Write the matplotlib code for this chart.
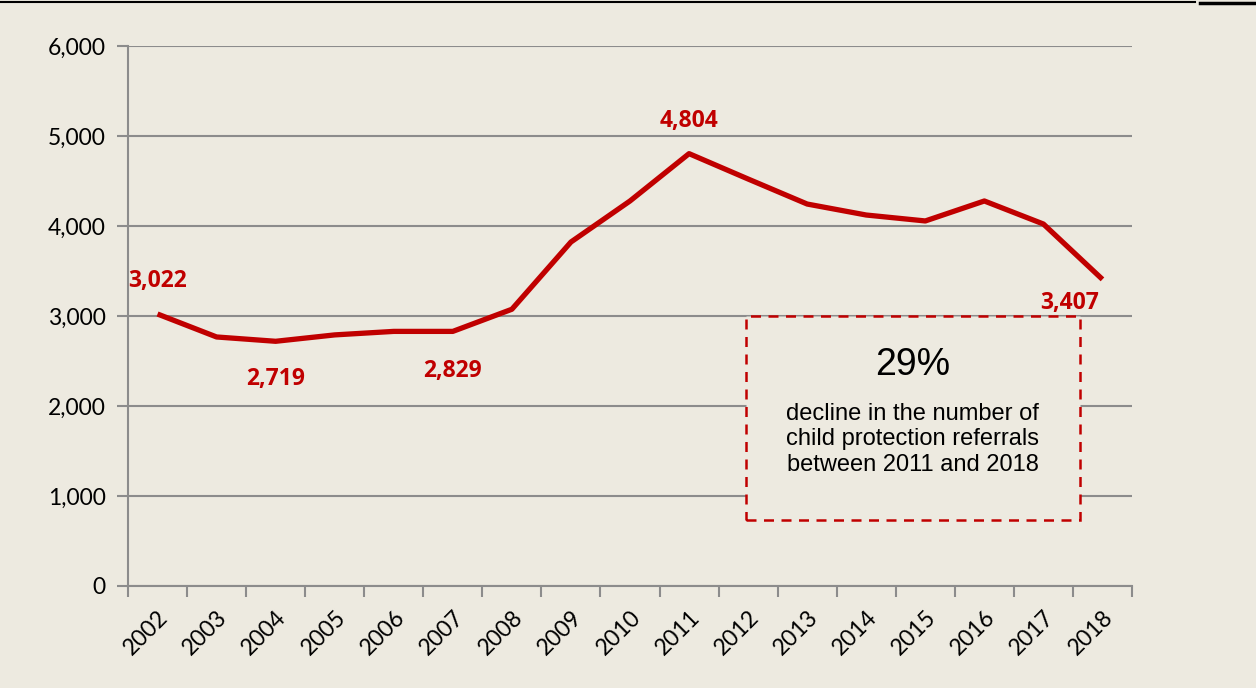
import numpy as np
import matplotlib.pyplot as plt
from matplotlib.patches import Rectangle
from matplotlib.lines import Line2D
from matplotlib.ticker import FuncFormatter

# data
years = ["2002", "2003", "2004", "2005", "2006", "2007", "2008", "2009", "2010",
         "2011", "2012", "2013", "2014", "2015", "2016", "2017", "2018"]
referrals = [3022, 2767, 2719, 2790, 2829, 2829, 3075, 3822, 4278,
             4804, 4522, 4244, 4122, 4056, 4278, 4022, 3407]

# labelled points: index, text offset in pixels
label_idx = [0, 2, 5, 9, 16]
label_off = [(0, 33), (0, -38), (0, -40), (0, 33), (-33, -24)]

bg = "#EDEAE0"
red = "#C00000"
grid = "#8C8C8C"

fig = plt.figure(figsize=(12.56, 6.88), dpi=100, facecolor=bg)
ax = fig.add_axes([128/1256, 1-586/688, 1004/1256, 540/688])
ax.set_facecolor(bg)

x = np.arange(len(years))
ax.plot(x, referrals, color=red, lw=3.8, solid_capstyle="butt", zorder=3)

for i, (dx, dy) in zip(label_idx, label_off):
    ax.annotate(f"{referrals[i]:,}", (x[i], referrals[i]), xytext=(dx, dy),
                textcoords="offset pixels", ha="center", va="center",
                color=red, fontsize=16.5, fontweight="bold", family="Open Sans",
                zorder=4)

ax.set_xlim(-0.5, len(years) - 0.5)
ax.set_ylim(0, 6000)
ax.set_yticks(np.arange(0, 6001, 1000))
ax.yaxis.set_major_formatter(FuncFormatter(lambda v, p: f"{int(v):,}"))
ax.grid(axis="y", color=grid, lw=1.5)
ax.set_axisbelow(True)

# categories sit between the tick marks
ax.set_xticks(np.arange(-0.5, len(years)), minor=False)
ax.set_xticklabels([])
ax.set_xticks(x, minor=True)
ax.set_xticklabels(years, minor=True, rotation=45, ha="right",
                   rotation_mode="anchor", fontsize=16.5, family="Lato")
ax.tick_params(axis="x", which="major", length=8, width=1.5, color=grid)
ax.tick_params(axis="x", which="minor", length=0, pad=15)
ax.tick_params(axis="y", length=8, width=1.5, color=grid, labelsize=16.5, pad=8)
for lab in ax.get_yticklabels():
    lab.set_family("Lato")

for s in ["top", "right"]:
    ax.spines[s].set_visible(False)
for s in ["left", "bottom"]:
    ax.spines[s].set_color(grid)
    ax.spines[s].set_linewidth(1.5)

# callout box
box = Rectangle((9.96, 735), 5.66, 2270, fill=True, facecolor=bg,
                edgecolor=red, lw=1.8, linestyle=(0, (4, 3)), zorder=2)
ax.add_patch(box)
ax.text(12.79, 2456, "29%", ha="center", va="center", fontsize=27,
        family="Liberation Sans", zorder=5)
ax.text(12.79, 1630, "decline in the number of\nchild protection referrals\nbetween 2011 and 2018",
        ha="center", va="center", fontsize=17, family="Liberation Sans",
        linespacing=1.22, zorder=5)

# top frame line
fig.add_artist(Line2D([0, 1195/1256], [1-2/688, 1-2/688], color="black", lw=1.5))
fig.add_artist(Line2D([1200/1256, 1], [1-3/688, 1-3/688], color="black", lw=2.5))

fig.savefig("out.png", dpi=100, facecolor=bg)
